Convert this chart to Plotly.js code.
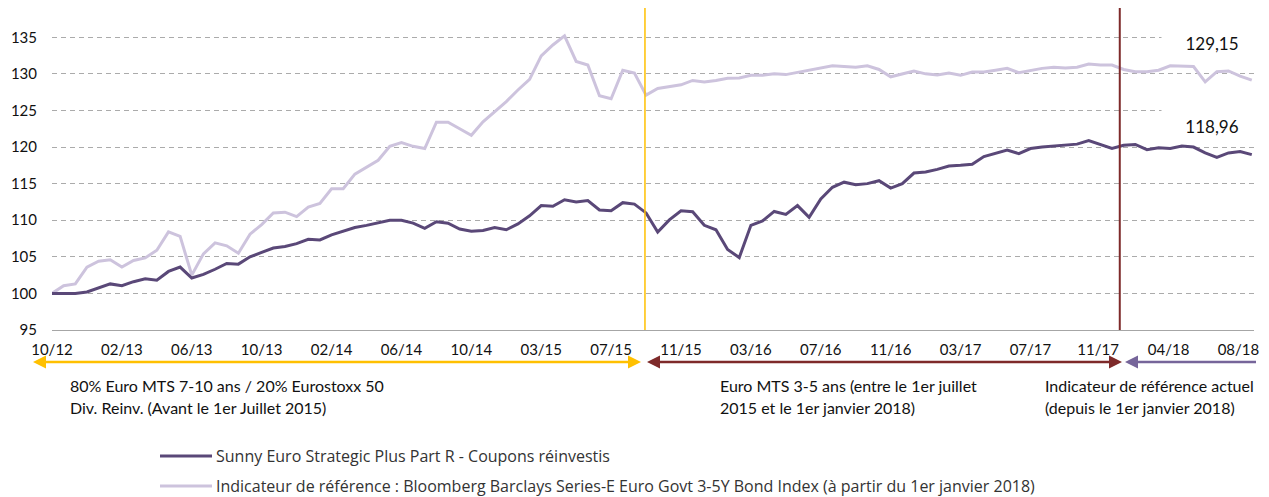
<!DOCTYPE html>
<html><head><meta charset="utf-8">
<script src="https://cdn.plot.ly/plotly-3.0.1.min.js"></script>
<style>html,body{margin:0;padding:0;background:#fff;} #chart{width:1269px;height:497px;}</style>
</head><body><div id="chart"></div>
<script>
const startDate = '2012-10-01';
const stepDays = 21;
const fundName = 'Sunny Euro Strategic Plus Part R - Coupons réinvestis';
const indexName = 'Indicateur de référence : Bloomberg Barclays Series-E Euro Govt 3-5Y Bond Index (à partir du 1er janvier 2018)';
const fundValues = [
  100.0,100.0,100.0,100.2,100.8,101.3,101.05,101.6,102.0,101.8,
  103.0,103.6,102.1,102.6,103.3,104.1,104.0,105.0,105.6,106.2,
  106.4,106.8,107.4,107.3,108.0,108.5,109.0,109.3,109.6,110.0,
  110.0,109.6,108.9,109.8,109.6,108.8,108.5,108.6,109.0,108.7,
  109.5,110.6,112.0,111.9,112.8,112.5,112.7,111.4,111.3,112.4,
  112.2,111.0,108.4,110.05,111.3,111.15,109.3,108.7,106.0,104.9,
  109.3,109.9,111.2,110.8,112.0,110.4,112.9,114.5,115.2,114.85,
  115.0,115.4,114.4,115.0,116.45,116.6,116.95,117.4,117.5,117.65,
  118.7,119.2,119.6,119.1,119.8,120.0,120.1,120.25,120.4,120.9,
  120.4,119.8,120.25,120.35,119.65,119.9,119.8,120.15,120.0,119.2,
  118.6,119.2,119.4,118.96
];
const indexValues = [
  100.0,101.05,101.3,103.6,104.4,104.6,103.6,104.5,104.85,105.9,
  108.4,107.8,102.5,105.4,106.9,106.5,105.5,108.1,109.4,111.0,
  111.1,110.5,111.8,112.3,114.3,114.3,116.3,117.3,118.2,120.1,
  120.6,120.1,119.8,123.4,123.4,122.5,121.6,123.45,124.8,126.2,
  127.8,129.25,132.45,133.95,135.2,131.7,131.2,127.0,126.6,130.5,
  130.1,127.1,128.0,128.3,128.5,129.1,128.9,129.1,129.4,129.45,
  129.8,129.8,130.0,129.9,130.2,130.5,130.9,131.1,131.0,130.9,
  131.1,130.6,129.6,130.0,130.4,130.0,129.85,130.1,129.8,130.25,
  130.25,130.5,130.75,130.15,130.5,130.75,130.9,130.8,130.9,131.35,
  131.2,131.2,130.6,130.3,130.3,130.5,131.1,131.1,131.0,128.9,
  130.3,130.4,129.7,129.15
];
const tickDates = ['2012-10-01','2013-02-04','2013-06-10','2013-10-14','2014-02-17','2014-06-23',
  '2014-10-27','2015-03-02','2015-07-06','2015-11-09','2016-03-14','2016-07-18','2016-11-21',
  '2017-03-27','2017-07-31','2017-11-30','2018-04-06','2018-08-10'];
const tickLabels = ['10/12','02/13','06/13','10/13','02/14','06/14','10/14','03/15','07/15',
  '11/15','03/16','07/16','11/16','03/17','07/17','11/17','04/18','08/18'];
const yTicks = [95,100,105,110,115,120,125,130,135];
const switchDates = ['2015-09-05','2018-01-08'];
const lastLabels = ['129,15','118,96'];
const periodTexts = [
  ['80% Euro MTS 7-10 ans / 20% Eurostoxx 50','Div. Reinv. (Avant le 1er Juillet 2015)'],
  ['Euro MTS 3-5 ans (entre le 1er juillet','2015 et le 1er janvier 2018)'],
  ['Indicateur de référence actuel','(depuis le 1er janvier 2018)']
];

// ---- colours / layout helpers ----
const C_FUND = '#5A4878', C_INDEX = '#CDC3DD', C_YEL = '#FFC000', C_RED = '#7E2A2A', C_PUR = '#76659A';
const FONT = 'Lato, "Open Sans", sans-serif';
const LEG_FONT = '"Open Sans", Lato, sans-serif';
const L = 52, R = 1254, T = 8, B = 330;
const px = v => (v - L) / (R - L);
const py = v => (B - v) / (B - T);

function isoAdd(start, days) {
  const d = new Date(start + 'T00:00:00Z');
  d.setUTCDate(d.getUTCDate() + days);
  return d.toISOString().slice(0, 10);
}
const dates = fundValues.map((_, i) => isoAdd(startDate, i * stepDays));

const traces = [
  {x: dates, y: indexValues, type: 'scatter', mode: 'lines', name: indexName,
   line: {color: C_INDEX, width: 3}, hoverinfo: 'skip'},
  {x: dates, y: fundValues, type: 'scatter', mode: 'lines', name: fundName,
   line: {color: C_FUND, width: 3}, hoverinfo: 'skip'}
];

const shapes = [];
const annotations = [];
// vertical change lines
shapes.push({type: 'line', xref: 'x', yref: 'paper', x0: switchDates[0], x1: switchDates[0], y0: 0, y1: 1,
  line: {color: C_YEL, width: 1.5}});
shapes.push({type: 'line', xref: 'x', yref: 'paper', x0: switchDates[1], x1: switchDates[1], y0: 0, y1: 1,
  line: {color: C_RED, width: 2}});

// period arrows under the axis
function arrow(x0, x1, y, color, headL, headR) {
  const hl = 13, hh = 6.5;
  const a = headL ? x0 + hl - 1 : x0, b = headR ? x1 - hl + 1 : x1;
  shapes.push({type: 'line', xref: 'paper', yref: 'paper', x0: px(a), x1: px(b), y0: py(y), y1: py(y),
    line: {color: color, width: 2.5}});
  if (headL) shapes.push({type: 'path', xref: 'paper', yref: 'paper',
    path: `M${px(x0)},${py(y)} L${px(x0 + hl)},${py(y - hh)} L${px(x0 + hl)},${py(y + hh)} Z`,
    fillcolor: color, line: {width: 0}});
  if (headR) shapes.push({type: 'path', xref: 'paper', yref: 'paper',
    path: `M${px(x1)},${py(y)} L${px(x1 - hl)},${py(y - hh)} L${px(x1 - hl)},${py(y + hh)} Z`,
    fillcolor: color, line: {width: 0}});
}
const arrowY = 362;
arrow(33, 641, arrowY, C_YEL, true, true);
arrow(647, 1122, arrowY, C_RED, true, true);
arrow(1125, 1256, arrowY, C_PUR, true, false);

// period texts
const textX = [68, 718, 1043];
periodTexts.forEach((lines, i) => {
  lines.forEach((t, j) => annotations.push({xref: 'paper', yref: 'paper', x: px(textX[i]), y: py(385 + j * 22),
    xanchor: 'left', yanchor: 'middle', text: t, showarrow: false,
    font: {family: FONT, size: 16, color: '#111'}}));
});

// last value labels
[[43, lastLabels[0]], [126, lastLabels[1]]].forEach(([yy, t]) => annotations.push({
  xref: 'paper', yref: 'paper', x: px(1212), y: py(yy), xanchor: 'center', yanchor: 'middle',
  text: t, showarrow: false, bgcolor: '#ffffff', width: 100, height: 33, borderpad: 0,
  font: {family: FONT, size: 17, color: '#111'}}));

// custom legend
[[456, C_FUND, fundName], [486, C_INDEX, indexName]].forEach(([yy, c, t]) => {
  shapes.push({type: 'line', xref: 'paper', yref: 'paper', x0: px(160), x1: px(212), y0: py(yy), y1: py(yy),
    line: {color: c, width: 3}});
  annotations.push({xref: 'paper', yref: 'paper', x: px(214), y: py(yy), xanchor: 'left', yanchor: 'middle',
    text: t, showarrow: false, font: {family: LEG_FONT, size: 16, color: '#333'}});
});

const layout = {
  width: 1269, height: 497,
  margin: {l: L, r: 1269 - R, t: T, b: 497 - B},
  paper_bgcolor: '#fff', plot_bgcolor: '#fff',
  showlegend: false,
  font: {family: FONT, size: 15, color: '#111'},
  xaxis: {type: 'date', range: [startDate, '2018-09-07'], tickvals: tickDates, ticktext: tickLabels,
    showgrid: false, zeroline: false, showline: true, linecolor: '#A6A6A6', linewidth: 1,
    ticks: '', tickfont: {family: FONT, size: 15, color: '#111'}, ticklabelstandoff: 6},
  yaxis: {range: [95, 139], tickvals: yTicks, ticktext: yTicks.map(String), showgrid: true,
    gridcolor: '#ABABAB', griddash: '5px,4px', gridwidth: 1, zeroline: false, showline: false,
    ticks: '', tickfont: {family: FONT, size: 15, color: '#111'}, ticklabelstandoff: 14},
  shapes: shapes,
  annotations: annotations,
  hovermode: false
};
Plotly.newPlot('chart', traces, layout, {displayModeBar: false, staticPlot: true});
</script></body></html>
